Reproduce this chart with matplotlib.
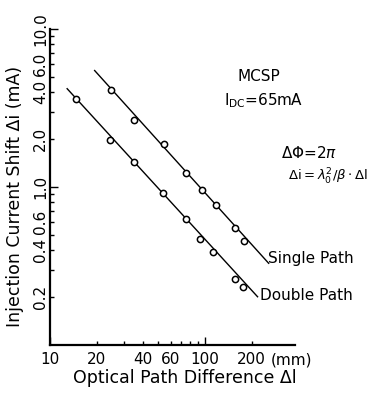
import matplotlib
matplotlib.use("Agg")
import matplotlib.pyplot as plt

# values (log-log)
single_x = [24.6, 34.6, 54.6, 75.5, 95.5, 117.6, 156.9, 178.5]
single_y = [4.10, 2.66, 1.87, 1.22, 0.96, 0.77, 0.55, 0.455]
double_x = [14.7, 24.3, 34.6, 53.9, 75.0, 92.7, 113.3, 155.2, 175.9]
double_y = [3.63, 1.97, 1.45, 0.91, 0.63, 0.47, 0.385, 0.26, 0.233]

# fitted straight lines (end points)
single_fit_x = [19.4, 257]
single_fit_y = [5.46, 0.329]
double_fit_x = [12.9, 218]
double_fit_y = [4.19, 0.202]

xticks = [10, 20, 40, 60, 100, 200]
xtick_labels = ["10", "20", "40", "60", "100", "200"]
xminor = [30, 50, 70, 80, 90]
yticks = [0.2, 0.4, 0.6, 1, 2, 4, 6, 10]
ytick_labels = ["0.2", "0.4", "0.6", "1.0", "2.0", "4.0", "6.0", "10.0"]
yminor = [0.3, 0.5, 0.7, 0.8, 0.9, 3, 5, 7, 8, 9]

plt.rcParams["font.family"] = ["DejaVu Sans"]
plt.rcParams["font.size"] = 11
plt.rcParams["mathtext.fontset"] = "dejavusans"

fig = plt.figure(figsize=(3.71, 3.98), dpi=100)
ax = fig.add_axes([50 / 371, 53 / 398, 245 / 371, 316 / 398])

ax.plot(single_fit_x, single_fit_y, color="black", lw=1.0)
ax.plot(double_fit_x, double_fit_y, color="black", lw=1.0)
ax.plot(single_x, single_y, "o", ms=4.5, mfc="white", mec="black", mew=1.1)
ax.plot(double_x, double_y, "o", ms=4.5, mfc="white", mec="black", mew=1.1)

ax.set_xscale("log")
ax.set_yscale("log")
ax.set_xlim(10, 380)
ax.set_ylim(0.1, 10)

for s in ["top", "right"]:
    ax.spines[s].set_visible(False)
for s in ["left", "bottom"]:
    ax.spines[s].set_linewidth(1.6)

ax.set_xticks(xticks)
ax.set_xticklabels(xtick_labels)
ax.set_xticks(xminor, minor=True)
ax.set_xticklabels([], minor=True)
ax.set_yticks(yticks)
ax.set_yticklabels(ytick_labels, rotation=90, va="center")
ax.set_yticks(yminor, minor=True)
ax.set_yticklabels([], minor=True)

ax.tick_params(which="both", direction="in", width=1.0, length=3)
ax.tick_params(axis="x", which="major", pad=5)
ax.tick_params(axis="y", which="major", pad=1.5)

# the decade ticks are longer
for t in ax.xaxis.get_major_ticks():
    if t.get_loc() in (10, 100):
        t.tick1line.set_markersize(6)
for t in ax.yaxis.get_major_ticks():
    if t.get_loc() in (1, 10):
        t.tick1line.set_markersize(6)

ax.set_xlabel("Optical Path Difference Δl", fontsize=12.5)
ax.xaxis.set_label_coords(0.55, -0.105)
ax.xaxis.label.set_va("center")
ax.set_ylabel("Injection Current Shift Δi (mA)", fontsize=12.5)
ax.yaxis.set_label_coords(-0.143, 0.47)
ax.yaxis.label.set_va("center")

fig.text(291 / 371, 1 - 360 / 398, "(mm)", ha="center", va="center")

ax.text(0.853, 0.851, "MCSP", transform=ax.transAxes, ha="center", va="center")
ax.text(0.873, 0.772, r"$\mathrm{I}_{\mathrm{DC}}$=65mA", transform=ax.transAxes,
        ha="center", va="center")
ax.text(1.057, 0.608, r"$\Delta\Phi$=2$\pi$", transform=ax.transAxes,
        ha="center", va="center")
ax.text(1.135, 0.532, r"$\Delta\mathrm{i}=\lambda_0^2/\beta\cdot\Delta\mathrm{l}$",
        transform=ax.transAxes, ha="center", va="center", fontsize=9.5)
ax.text(0.89, 0.275, "Single Path", transform=ax.transAxes, ha="left", va="center")
ax.text(0.857, 0.158, "Double Path", transform=ax.transAxes, ha="left", va="center")

fig.savefig("out.png", dpi=100)
